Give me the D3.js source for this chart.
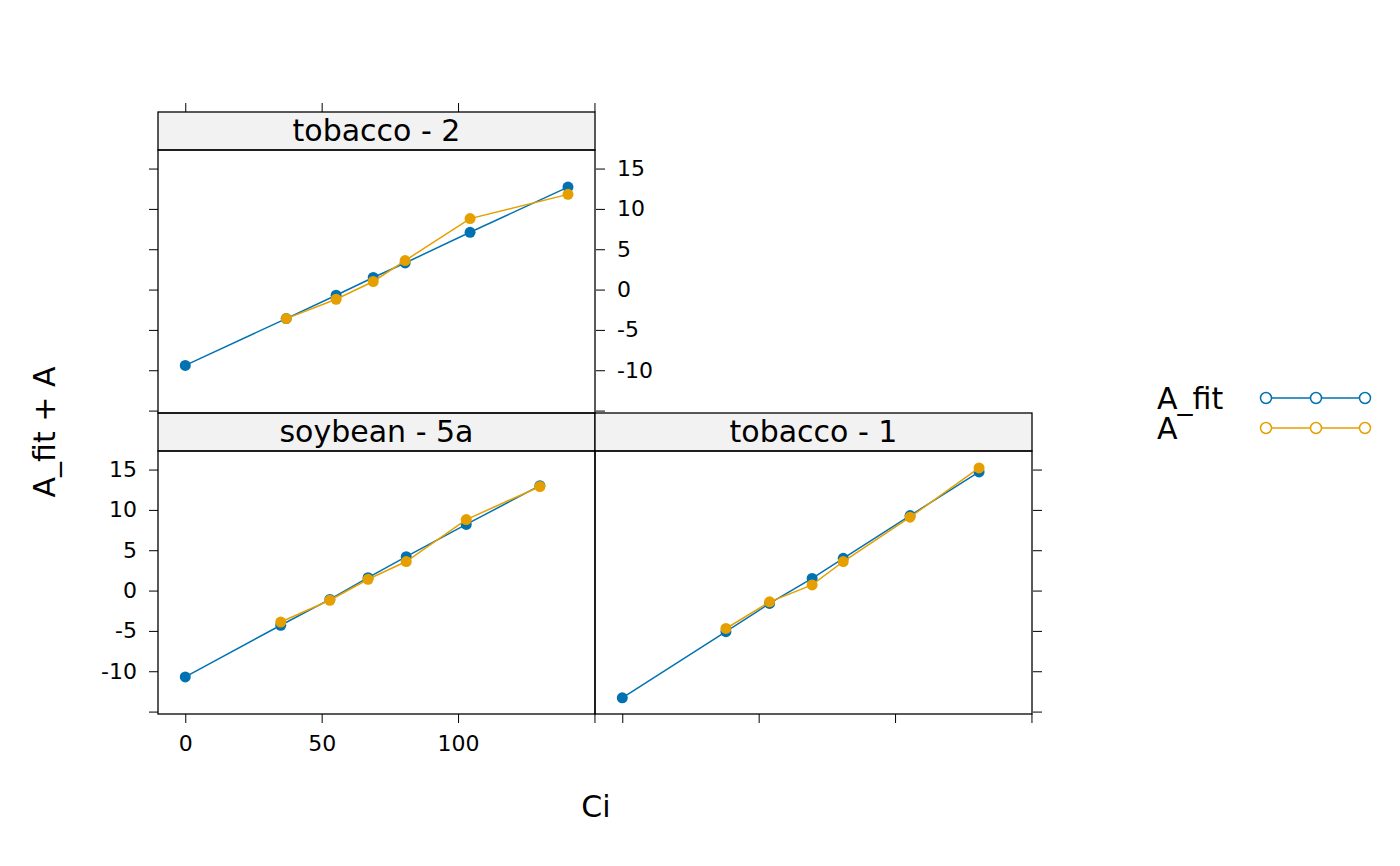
<!DOCTYPE html>
<html><head><meta charset="utf-8">
<script src="https://cdn.jsdelivr.net/npm/d3@7"></script>
<style>body{margin:0;background:#fff}text{font-family:"DejaVu Sans",sans-serif}</style>
</head><body><svg id="c" width="1400" height="866"></svg>
<script>
var panels = ["soybean - 5a", "tobacco - 1", "tobacco - 2"];
var ciSoy = [0, 35, 53, 67, 81, 103, 130];
var fitSoy = [-10.7, -4.3, -1.1, 1.6, 4.2, 8.2, 13.0];
var aSoy = [null, -3.9, -1.2, 1.4, 3.6, 8.8, 12.9];
var ciTob1 = [0, 38, 54, 69.6, 81, 105.5, 130.8];
var fitTob1 = [-13.3, -5.1, -1.6, 1.5, 4.0, 9.3, 14.7];
var aTob1 = [null, -4.7, -1.4, 0.7, 3.6, 9.1, 15.2];
var ciTob2 = [0, 37, 55.3, 68.9, 80.6, 104.4, 140.3];
var fitTob2 = [-9.4, -3.6, -0.7, 1.5, 3.3, 7.1, 12.7];
var aTob2 = [null, -3.6, -1.2, 1.0, 3.6, 8.8, 11.8];
var xTicks = [0, 50, 100, 150];
var xLabels = ["0", "50", "100", ""];
var yTicks = [-15, -10, -5, 0, 5, 10, 15];
var yLabels = ["", "-10", "-5", "0", "5", "10", "15"];
var seriesNames = ["A_fit", "A"];
var colors = ["#0072B2", "#E69F00"];

var svg = d3.select("#c");
var pw = 437, ph = 263, sh = 38;
var layout = [
  {name: panels[0], x0: 158, y0: 451, ci: ciSoy, fit: fitSoy, a: aSoy, left: true, bottom: true, right: false, top: false},
  {name: panels[1], x0: 595, y0: 451, ci: ciTob1, fit: fitTob1, a: aTob1, left: false, bottom: true, right: true, top: false},
  {name: panels[2], x0: 158, y0: 150, ci: ciTob2, fit: fitTob2, a: aTob2, left: true, bottom: false, right: true, top: true}
];
var lbl = {left: [true, false, false], right: [false, false, true], bottom: [true, false, false]};
var yFmt = function(v){ return yLabels[yTicks.indexOf(v)]; };
var xFmt = function(v){ return xLabels[xTicks.indexOf(v)]; };

layout.forEach(function(p, i) {
  var x = d3.scaleLinear().domain([-10, 150.2]).range([p.x0, p.x0 + pw]);
  var y = d3.scaleLinear().domain([-15.3, 17.3]).range([p.y0 + ph, p.y0]);
  function ax(a, show, fmt) {
    a.tickSizeOuter(0).tickSizeInner(9).tickPadding(12).tickFormat(show ? fmt : "");
    return a;
  }
  if (p.left) svg.append("g").attr("transform","translate(" + p.x0 + ",0)")
    .call(ax(d3.axisLeft(y).tickValues(yTicks), lbl.left[i], yFmt));
  if (p.right) svg.append("g").attr("transform","translate(" + (p.x0 + pw + 1) + ",0)")
    .call(ax(d3.axisRight(y).tickValues(yTicks), lbl.right[i], yFmt));
  if (p.bottom) svg.append("g").attr("transform","translate(0," + (p.y0 + ph) + ")")
    .call(ax(d3.axisBottom(x).tickValues(xTicks), lbl.bottom[i], xFmt));
  if (p.top) svg.append("g").attr("transform","translate(0," + (p.y0 - sh) + ")")
    .call(ax(d3.axisTop(x).tickValues(xTicks), false, xFmt));
  svg.selectAll(".domain").remove();
  svg.selectAll(".tick text").attr("font-size", 22).attr("fill", "#000");
  svg.append("rect").attr("x", p.x0).attr("y", p.y0 - sh).attr("width", pw).attr("height", sh)
    .attr("fill", "#f2f2f2").attr("stroke", "#000").attr("stroke-width", 1.3);
  svg.append("text").attr("x", p.x0 + pw / 2).attr("y", p.y0 - sh / 2 + 10).attr("text-anchor", "middle")
    .attr("font-size", 30).text(p.name);
  svg.append("rect").attr("x", p.x0).attr("y", p.y0).attr("width", pw).attr("height", ph)
    .attr("fill", "none").attr("stroke", "#000").attr("stroke-width", 1.3);
  [p.fit, p.a].forEach(function(vals, s) {
    var pts = p.ci.map(function(c, k){return [c, vals[k]];}).filter(function(d){return d[1] !== null;});
    svg.append("path").attr("d", d3.line().x(function(d){return x(d[0]);}).y(function(d){return y(d[1]);})(pts))
      .attr("fill", "none").attr("stroke", colors[s]).attr("stroke-width", 1.5);
    svg.append("g").selectAll("circle").data(pts).join("circle")
      .attr("cx", function(d){return x(d[0]);}).attr("cy", function(d){return y(d[1]);})
      .attr("r", 5.5).attr("fill", colors[s]);
  });
});

svg.append("text").attr("transform", "translate(55,432) rotate(-90)").attr("text-anchor", "middle")
  .attr("font-size", 30).text("A_fit + A");
svg.append("text").attr("x", 596).attr("y", 817).attr("text-anchor", "middle").attr("font-size", 30).text("Ci");

seriesNames.forEach(function(n, s) {
  var ly = 398 + s * 30;
  svg.append("text").attr("x", 1157).attr("y", ly + 11).attr("font-size", 30).text(n);
  svg.append("line").attr("x1", 1266).attr("x2", 1365).attr("y1", ly).attr("y2", ly)
    .attr("stroke", colors[s]).attr("stroke-width", 1.5);
  [1266, 1316, 1365].forEach(function(cx) {
    svg.append("circle").attr("cx", cx).attr("cy", ly).attr("r", 5.5)
      .attr("fill", "#fff").attr("stroke", colors[s]).attr("stroke-width", 1.5);
  });
});
</script></body></html>
